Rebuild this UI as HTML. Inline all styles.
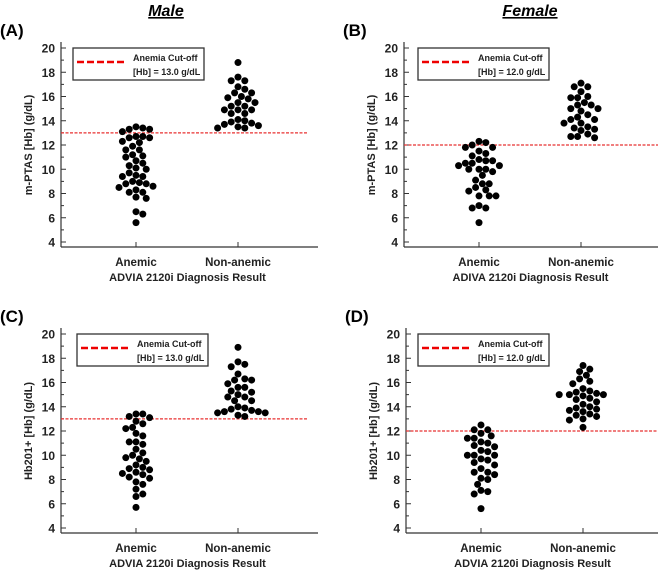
<!DOCTYPE html>
<html><head><meta charset="utf-8"><style>
body{margin:0;background:#fff;}
svg{display:block;font-family:"Liberation Sans",Arial,sans-serif;}
</style></head><body>
<svg id="fig" width="658" height="570" viewBox="0 0 658 570"></svg>
<script>
const ticks=[4,6,8,10,12,14,16,18,20];
const categories=["Anemic","Non-anemic"];
const aAnemic=[13.1,13.3,13.5,13.3,13.4,12.6,12.6,12.7,12.7,12.2,12.3,11.9,11.6,11.6,11.0,11.1,11.2,10.7,10.5,10.3,10.0,10.1,9.7,9.4,9.4,9.5,9.0,8.9,8.8,8.8,8.5,8.6,8.3,8.1,8.1,7.7,7.6,6.3,6.5,5.6];
const aNon=[18.8,17.3,17.3,17.6,16.8,16.6,16.3,16.3,16.0,15.9,15.8,15.5,15.5,15.2,15.2,14.9,14.9,14.9,14.6,14.6,14.1,14.0,13.9,13.8,13.7,13.6,13.5,13.4,13.4];
const bAnemic=[12.2,12.3,12.0,11.8,11.8,11.5,11.3,11.1,10.8,10.7,10.7,10.5,10.3,10.5,10.3,10.0,10.0,10.0,9.8,9.5,9.1,8.8,8.8,8.5,8.3,8.2,7.8,7.8,7.8,7.0,6.8,6.8,5.6];
const bNon=[17.1,16.8,16.8,16.4,16.0,15.9,15.9,15.5,15.3,15.3,15.0,15.0,14.8,14.5,14.3,14.1,14.1,13.8,13.8,13.5,13.4,13.3,13.2,12.9,12.7,12.7,12.6];
const cAnemic=[13.1,13.2,13.4,13.4,12.8,12.6,12.3,12.2,11.8,11.6,11.1,11.1,10.9,10.5,10.2,10.0,9.8,9.7,9.5,9.2,9.0,8.9,8.8,8.6,8.5,8.4,8.2,8.1,7.8,7.6,7.2,6.8,6.6,5.7];
const cNon=[18.9,17.7,17.5,17.3,16.7,16.3,16.2,16.2,15.9,15.6,15.6,15.3,15.2,15.0,14.8,14.8,14.5,14.5,14.0,13.9,13.8,13.7,13.6,13.6,13.5,13.5,13.3,13.2];
const dAnemic=[12.5,12.1,12.1,11.8,11.6,11.4,11.4,11.1,11.0,10.8,10.7,10.4,10.3,10.0,10.0,10.0,9.7,9.6,9.4,9.2,8.9,8.6,8.6,8.4,8.1,8.0,7.6,7.1,7.0,6.8,5.6];
const dNon=[17.4,17.1,16.9,16.6,16.3,16.1,15.9,15.5,15.3,15.2,15.1,15.0,15.0,15.0,14.9,14.7,14.6,14.4,14.2,14.0,13.9,13.8,13.7,13.6,13.4,13.3,13.2,13.0,12.9,12.3];
const cutoffs=[13.0,12.0,13.0,12.0];

const NS="http://www.w3.org/2000/svg";
const svg=document.getElementById('fig');
function mk(tag,attrs,parent){const e=document.createElementNS(NS,tag);for(const k in attrs)e.setAttribute(k,attrs[k]);(parent||svg).appendChild(e);return e;}

let t=mk('text',{x:166,y:16,'font-size':16,'font-weight':'bold','font-style':'italic','text-anchor':'middle','text-decoration':'underline'});
t.textContent='Male';


t=mk('text',{x:530,y:16,'font-size':16,'font-weight':'bold','font-style':'italic','text-anchor':'middle','text-decoration':'underline'});
t.textContent='Female';



const panels=[
 {id:'a',letter:'(A)',ax:61,top:48,ylab:'m-PTAS [Hb] (g/dL)',xt:'ADVIA 2120i Diagnosis Result',an:aAnemic,non:aNon,redEnd:307,lx:73,lw:131,lt:'[Hb] = 13.0 g/dL'},
 {id:'b',letter:'(B)',ax:404,top:48,ylab:'m-PTAS [Hb] (g/dL)',xt:'ADIVA 2120i Diagnosis Result',an:bAnemic,non:bNon,redEnd:658,lx:418,lw:131,lt:'[Hb] = 12.0 g/dL'},
 {id:'c',letter:'(C)',ax:61,top:334,ylab:'Hb201+ [Hb] (g/dL)',xt:'ADVIA 2120i Diagnosis Result',an:cAnemic,non:cNon,redEnd:307,lx:77,lw:131,lt:'[Hb] = 13.0 g/dL'},
 {id:'d',letter:'(D)',ax:406,top:334,ylab:'Hb201+ [Hb] (g/dL)',xt:'ADVIA 2120i Diagnosis Result',an:dAnemic,non:dNon,redEnd:658,lx:418,lw:131,lt:'[Hb] = 12.0 g/dL'}
];
const unit=12.125, R=3.5;

function swarm(vals,cx,yf){
  const placed=[];const out=[];
  const sorted=vals.slice().sort((a,b)=>b-a);
  const minD=6.8;
  for(const v of sorted){
    const y=yf(v);let best=null;
    for(let k=0;k<60;k++){
      const cands=k===0?[0]:[k*3.4,-k*3.4];
      for(const dx of cands){
        const x=cx+dx;
        if(placed.every(p=>(p[0]-x)**2+(p[1]-y)**2>=minD*minD)){best=x;break;}
      }
      if(best!==null)break;
    }
    placed.push([best,y]);out.push([best,y]);
  }
  return out;
}

panels.forEach((p,pi)=>{
  const g=mk('g',{});
  
  
  const y=v=>p.top+(20-v)*unit;
  const ax=p.ax, base=y(4)+5, xEnd=ax+257;
  const c1=ax+75, c2=ax+177;
  let e=mk('text',{x:ax-61,y:p.top-12,'font-size':17,'font-weight':'bold'},g);
  e.textContent=p.letter;
  
  
  e=mk('line',{x1:ax,y1:p.top-6,x2:ax,y2:base,stroke:'#333','stroke-width':1.2},g);
  
  
  e=mk('line',{x1:ax,y1:base,x2:xEnd,y2:base,stroke:'#333','stroke-width':1.2},g);
  
  
  ticks.forEach(tv=>{
    mk('line',{x1:ax,y1:y(tv),x2:ax+5,y2:y(tv),stroke:'#333'},g);
    if(tv<20) mk('line',{x1:ax,y1:y(tv+1),x2:ax+3,y2:y(tv+1),stroke:'#333'},g);
    const tl=mk('text',{x:ax-6,y:y(tv)+4.5,'font-size':12,'font-weight':'bold','text-anchor':'end',fill:'#222'},g);
    tl.textContent=tv;
    
    
  });
  [c1,c2].forEach((cx,i)=>{
    mk('line',{x1:cx,y1:base,x2:cx,y2:base-5,stroke:'#333'},g);
    const cl=mk('text',{x:cx,y:base+19,'font-size':11.5,'font-weight':'bold','text-anchor':'middle',fill:'#222'},g);
    cl.textContent=categories[i];
    
    
  });
  e=mk('text',{x:(ax+xEnd)/2-2,y:base+34,'font-size':11,'font-weight':'bold','text-anchor':'middle',fill:'#222'},g);
  e.textContent=p.xt;
  
  
  const ym=y(12);
  e=mk('text',{x:0,y:0,'font-size':11,'font-weight':'bold','text-anchor':'middle',fill:'#222',transform:`translate(${ax-29},${ym}) rotate(-90)`},g);
  e.textContent=p.ylab;
  
  
  e=mk('line',{x1:ax,y1:y(cutoffs[pi]),x2:p.redEnd,y2:y(cutoffs[pi]),stroke:'#e83030','stroke-width':1.3,'stroke-dasharray':'3,1.5'},g);
  
  
  [[p.an,c1],[p.non,c2]].forEach(([vals,cx],i)=>{
    swarm(vals,cx,y).forEach(([x,yy])=>{
      const d=mk('circle',{cx:x,cy:yy,r:R,fill:'#000'},g);
      
      
    });
  });
  const lg=mk('g',{},g);
  
  
  mk('rect',{x:p.lx,y:p.top,width:p.lw,height:32,fill:'#fff',stroke:'#333','stroke-width':1.3},lg);
  mk('line',{x1:p.lx+4,y1:p.top+14,x2:p.lx+53,y2:p.top+14,stroke:'#e00','stroke-width':2.5,'stroke-dasharray':'7,3'},lg);
  e=mk('text',{x:p.lx+60,y:p.top+13,'font-size':9,'font-weight':'bold',fill:'#222'},lg);
  e.textContent='Anemia Cut-off';
  
  
  e=mk('text',{x:p.lx+60,y:p.top+27,'font-size':9,'font-weight':'bold',fill:'#222'},lg);
  e.textContent=p.lt;
  
  
});
</script>
</body></html>
